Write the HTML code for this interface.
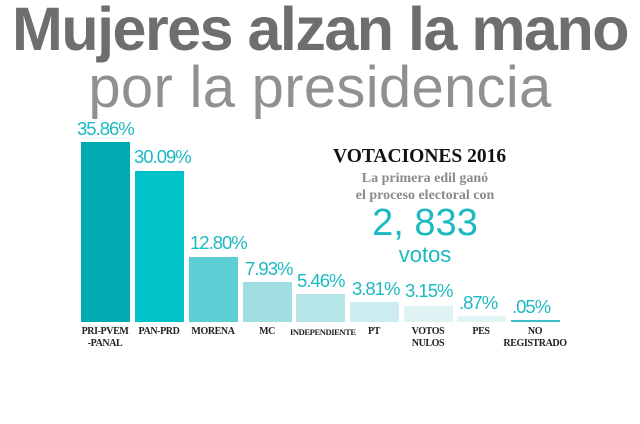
<!DOCTYPE html>
<html><head><meta charset="utf-8"><style>
body{margin:0;width:640px;height:424px;background:#fff;position:relative;overflow:hidden;font-family:"Liberation Sans",sans-serif}
.a{position:absolute;white-space:nowrap}
.t1{left:0;width:640px;text-align:center;top:-6px;font-size:61px;font-weight:bold;color:#6d6e70;letter-spacing:-1.5px}
.t2{left:0;width:640px;text-align:center;top:54px;font-size:58px;color:#8f9092;letter-spacing:0.3px}
.bar{position:absolute;width:49px}
.p{position:absolute;color:#1cb9c2;font-size:18.5px;letter-spacing:-1px}
.c{position:absolute;font-family:"Liberation Serif",serif;font-weight:bold;font-size:10px;color:#222;text-align:center;width:60px;line-height:12px;letter-spacing:-0.4px}
</style></head><body>
<div class="a t1">Mujeres alzan la mano</div>
<div class="a t2">por la presidencia</div>

<div class="bar" style="left:81px;top:142px;height:180px;background:#01abb2"></div>
<div class="bar" style="left:135px;top:171px;height:151px;background:#00c3ca"></div>
<div class="bar" style="left:189px;top:257px;height:65px;background:#5ccfd5"></div>
<div class="bar" style="left:243px;top:282px;height:40px;background:#a0dee2"></div>
<div class="bar" style="left:296px;top:294px;height:28px;background:#b7e6e9"></div>
<div class="bar" style="left:350px;top:302px;height:20px;background:#cbedef"></div>
<div class="bar" style="left:404px;top:306px;height:16px;background:#dcf2f3"></div>
<div class="bar" style="left:457px;top:316px;height:6px;background:#e3f4f5"></div>
<div class="bar" style="left:511px;top:320px;height:2px;background:#3bbfc6"></div>

<div class="p" style="left:77px;top:118px">35.86%</div>
<div class="p" style="left:134px;top:146px">30.09%</div>
<div class="p" style="left:190px;top:232px">12.80%</div>
<div class="p" style="left:245px;top:258px">7.93%</div>
<div class="p" style="left:297px;top:270px">5.46%</div>
<div class="p" style="left:352px;top:278px">3.81%</div>
<div class="p" style="left:405px;top:280px">3.15%</div>
<div class="p" style="left:459px;top:292px">.87%</div>
<div class="p" style="left:512px;top:296px">.05%</div>

<div class="c" style="left:75px;top:326px">PRI-PVEM<br>-PANAL</div>
<div class="c" style="left:129px;top:326px">PAN-PRD</div>
<div class="c" style="left:183px;top:326px">MORENA</div>
<div class="c" style="left:237px;top:326px">MC</div>
<div class="c" style="left:290px;top:326px;font-size:8.5px">INDEPENDIENTE</div>
<div class="c" style="left:344px;top:326px">PT</div>
<div class="c" style="left:398px;top:326px">VOTOS<br>NULOS</div>
<div class="c" style="left:451px;top:326px">PES</div>
<div class="c" style="left:505px;top:326px;width:70px;margin-left:-5px">NO<br>REGISTRADO</div>

<div class="a" style="left:333px;top:146px;font-family:'Liberation Serif',serif;font-weight:bold;font-size:19.5px;color:#111">VOTACIONES 2016</div>
<div class="a" style="left:330px;top:170px;width:190px;text-align:center;font-family:'Liberation Serif',serif;font-weight:bold;font-size:14px;color:#8a8a8a;line-height:17px">La primera edil ganó<br>el proceso electoral con</div>
<div class="a" style="left:330px;top:203px;width:190px;text-align:center;font-size:38px;color:#1cb9c2;line-height:40px">2, 833</div>
<div class="a" style="left:330px;top:242px;width:190px;text-align:center;font-size:22px;color:#1cb9c2">votos</div>
</body></html>
